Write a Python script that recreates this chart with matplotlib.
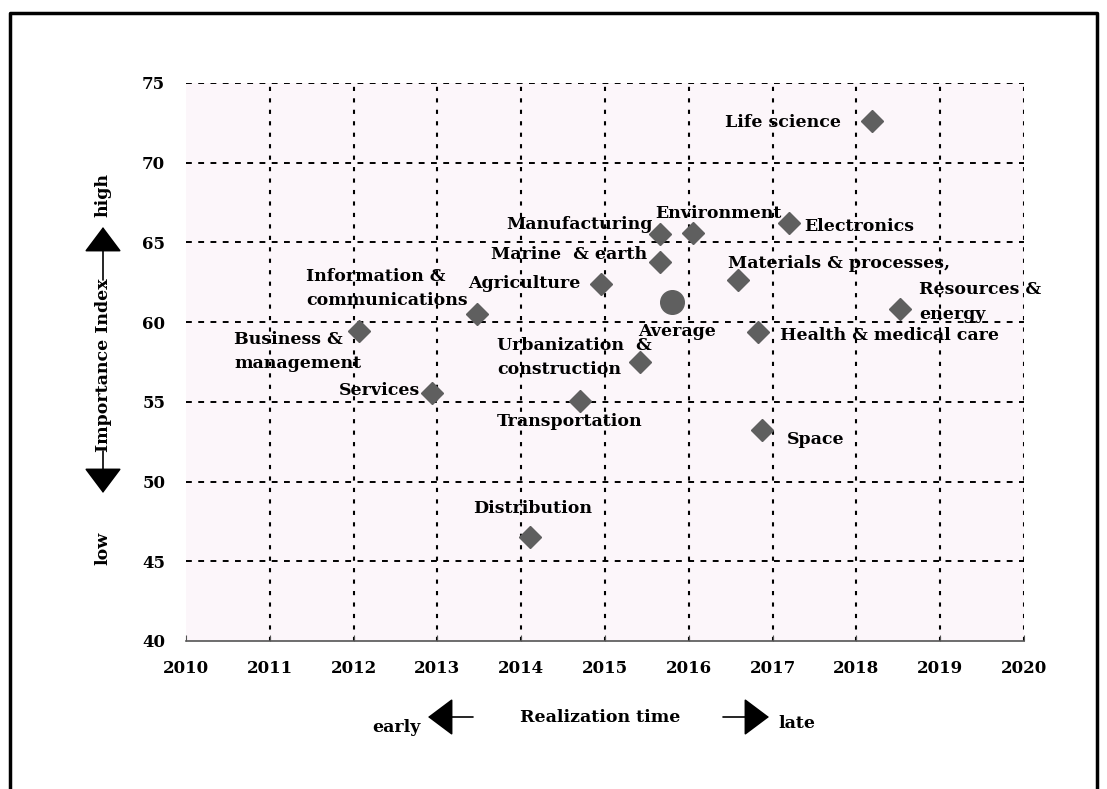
import matplotlib
matplotlib.use("Agg")
import matplotlib.pyplot as plt
from matplotlib.lines import Line2D

# data
sectors = ["Life science", "Electronics", "Environment", "Manufacturing",
           "Marine  & earth", "Materials & processes,", "Agriculture",
           "Resources &\nenergy", "Health & medical care", "Space",
           "Information &\ncommunications", "Business &\nmanagement",
           "Services", "Urbanization  &\nconstruction", "Transportation",
           "Distribution"]
realization = [2018.19, 2017.20, 2016.05, 2015.66, 2015.66, 2016.59, 2014.95,
               2018.52, 2016.82, 2016.87, 2013.47, 2012.07, 2012.94, 2015.42,
               2014.70, 2014.11]
importance = [72.62, 66.20, 65.61, 65.53, 63.79, 62.64, 62.39, 60.82, 59.40,
              53.23, 60.54, 59.47, 55.55, 57.52, 55.07, 46.54]
avg_year = 2015.80
avg_index = 61.24

x_ticks = list(range(2010, 2021))
y_ticks = list(range(40, 80, 5))

# label placement (pixel offsets from the marker, alignment)
label_pos = [(-31, -2, "right"), (15, -3, "left"), (-38, 19, "left"),
             (-8, 9, "right"), (-13, 7, "right"), (-10, 17, "left"),
             (-20, 1, "right"), (19, 7, "left"), (22, -4, "left"),
             (25, -9, "left"), (-171, 25, "left"), (-125, -21, "left"),
             (-12, 3, "right"), (-143, 4, "left"), (-83, -21, "left"),
             (2, 28, "center")]

W, H = 1107, 789
FONT = "DejaVu Serif"
MARK = "#5f5f5f"

fig = plt.figure(figsize=(W / 100, H / 100), dpi=100)
ax = fig.add_axes([186 / W, 1 - 641 / H, (1024 - 186) / W, (641 - 83) / H])
ax.set_facecolor("#fcf6fa")

ax.set_xlim(2010, 2020)
ax.set_ylim(40, 75)

# dotted grid
for yv in y_ticks[1:]:
    ax.axhline(yv, color="black", lw=1.4, linestyle=(0, (3, 3.3)), zorder=1)
for xv in x_ticks[1:]:
    ax.axvline(xv, color="black", lw=1.5, linestyle=(0, (2, 3.5)), zorder=1)

ax.plot(realization, importance, linestyle="none", marker="D", ms=11,
        color=MARK, zorder=3)
ax.plot([avg_year], [avg_index], linestyle="none", marker="o", ms=17,
        color=MARK, zorder=3)

for name, xv, yv, (dx, dy, ha) in zip(sectors, realization, importance, label_pos):
    ax.annotate(name, (xv, yv), xytext=(dx * 0.72, dy * 0.72),
                textcoords="offset points", ha=ha, va="center",
                multialignment="left", fontsize=12.5, fontweight="bold",
                family=FONT, linespacing=1.55, zorder=4)
ax.annotate("Average", (avg_year, avg_index), xytext=(-34 * 0.72, -29 * 0.72),
            textcoords="offset points", ha="left", va="center",
            fontsize=12.5, fontweight="bold", family=FONT, zorder=4)

for side in ["left", "top", "right"]:
    ax.spines[side].set_visible(False)
ax.spines["bottom"].set_color("#555555")
ax.spines["bottom"].set_linewidth(1.2)

ax.set_xticks(x_ticks)
ax.set_yticks(y_ticks)
ax.tick_params(axis="x", direction="in", length=4, color="#555555", pad=14,
               labelsize=12)
ax.tick_params(axis="y", length=0, pad=15, labelsize=12)
for lab in ax.get_xticklabels() + ax.get_yticklabels():
    lab.set_family(FONT)
    lab.set_fontweight("bold")


def fx(px):
    return px / W


def fy(py):
    return 1 - py / H


txt = dict(family=FONT, fontweight="bold", fontsize=12.5)
arrow = dict(arrowstyle="-|>,head_length=0.4,head_width=0.3", color="black",
             lw=1.2, mutation_scale=40, shrinkA=0, shrinkB=0)

# x-axis caption with arrows
fig.text(fx(600), fy(717), "Realization time", ha="center", va="center", **txt)
fig.text(fx(421), fy(727), "early", ha="right", va="center", **txt)
fig.text(fx(778), fy(724), "late", ha="left", va="center", **txt)
fig.add_artist(plt.Annotation("", xy=(fx(428), fy(717)), xytext=(fx(473), fy(717)),
                              xycoords="figure fraction", arrowprops=arrow))
fig.add_artist(plt.Annotation("", xy=(fx(769), fy(717)), xytext=(fx(723), fy(717)),
                              xycoords="figure fraction", arrowprops=arrow))

# y-axis caption with arrows
fig.text(fx(103), fy(365), "Importance Index", rotation=90, ha="center",
         va="center", **txt)
fig.text(fx(103), fy(195), "high", rotation=90, ha="center", va="center", **txt)
fig.text(fx(103), fy(548), "low", rotation=90, ha="center", va="center", **txt)
fig.add_artist(plt.Annotation("", xy=(fx(103), fy(227)), xytext=(fx(103), fy(280)),
                              xycoords="figure fraction", arrowprops=arrow))
fig.add_artist(plt.Annotation("", xy=(fx(103), fy(493)), xytext=(fx(103), fy(451)),
                              xycoords="figure fraction", arrowprops=arrow))

# outer frame (open at the bottom)
fig.add_artist(Line2D([fx(10), fx(10), fx(1097), fx(1097)],
                      [0, fy(13), fy(13), 0], color="black", lw=2.5))

fig.savefig("out.png", dpi=100)
